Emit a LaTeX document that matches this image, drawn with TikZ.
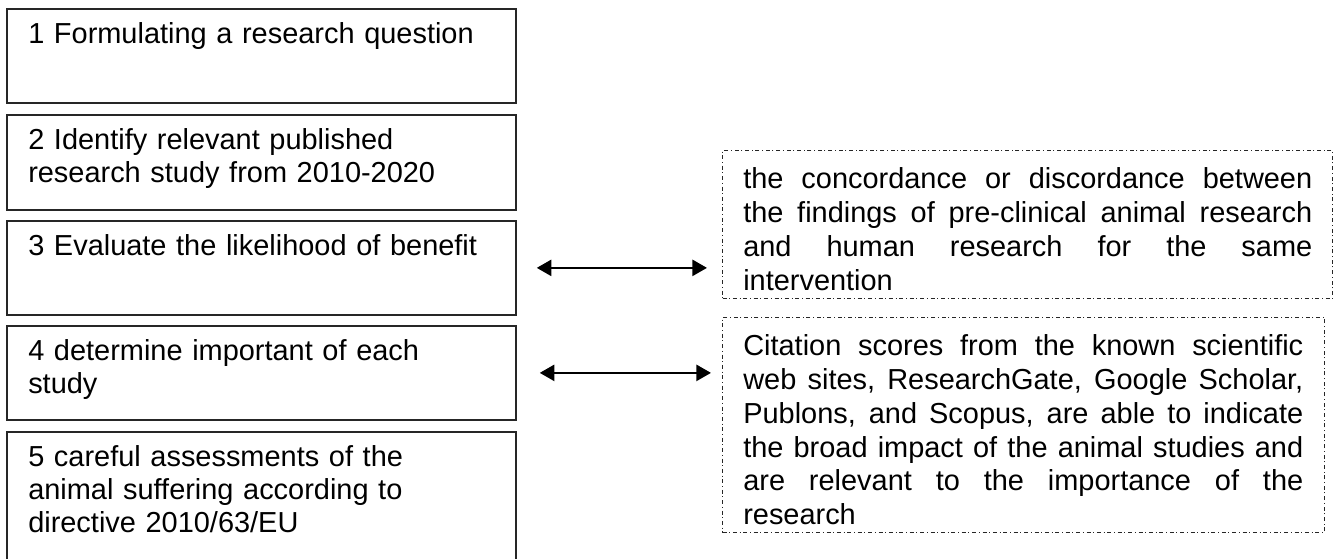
\documentclass[tikz,border=0pt]{standalone}
\usepackage{fontspec}
\setmainfont{Liberation Sans}
\usetikzlibrary{arrows.meta}
\setlength\parindent{0pt}
\tolerance=10000
\hyphenpenalty=10000
\exhyphenpenalty=10000
\newcommand\firstline{\leavevmode\vrule height 0.8em depth 0pt width 0pt\relax}
\newcommand\notepar[2]{\begin{minipage}[t]{#1}\spaceskip=0.278em plus 1em minus 0.05em\relax
  \parindent=0pt\relax\firstline #2\end{minipage}}
\begin{document}
\begin{tikzpicture}[x=0.75pt,y=-0.75pt,
  stepbox/.style={draw=black!85, line width=1.3pt, anchor=north west, inner sep=0pt, minimum width=381.75pt},
  steptext/.style={anchor=north west, inner sep=0pt, text width=360pt, align=left,
    font=\fontsize{21.7pt}{24.75pt}\selectfont},
  notebox/.style={draw=black!85, line width=0.8pt, dash pattern=on 3pt off 2pt on 0.8pt off 2pt,
    anchor=north west, inner sep=0pt},
  notetext/.style={anchor=north west, inner sep=0pt,
    font=\fontsize{21.7pt}{25.4pt}\selectfont},
  link/.style={{Triangle[length=11pt,width=12pt]}-{Triangle[length=11pt,width=12pt]}, line width=2pt}
]
\useasboundingbox (0,0) rectangle (1341,558);
\fill[white] (0,0) rectangle (1341,558);

% left column
\node[stepbox, minimum height=70.5pt] (b1) at (6,8) {};
\node[stepbox, minimum height=71.25pt] (b2) at (6,114) {};
\node[stepbox, minimum height=70.5pt] (b3) at (6,220) {};
\node[stepbox, minimum height=70.5pt] (b4) at (6,325) {};
\node[stepbox, minimum height=105pt] (b5) at (6,431) {};

\node[steptext] (t1) at ([shift={(22,12)}]b1.north west) {\firstline 1 Formulating a research question};
\node[steptext] (t2) at ([shift={(22,12)}]b2.north west) {\firstline 2 Identify relevant published\\research study from 2010-2020};
\node[steptext] (t3) at ([shift={(22,12)}]b3.north west) {\firstline 3 Evaluate the likelihood of benefit};
\node[steptext] (t4) at ([shift={(22,12)}]b4.north west) {\firstline 4 determine important of each\\study};
\node[steptext] (t5) at ([shift={(22,12)}]b5.north west) {\firstline 5 careful assessments of the\\animal suffering according to\\directive 2010/63/EU};

% right column
\node[notebox, minimum width=457.5pt, minimum height=111pt] (r1) at (722,150) {};
\node[notebox, minimum width=451.5pt, minimum height=161.25pt] (r2) at (722,317) {};

\node[notetext] (n1) at ([shift={(21,15)}]r1.north west)
  {\notepar{426.75pt}{the concordance or discordance between\linebreak the findings of pre-clinical animal research\linebreak and human research for the same\linebreak intervention}};
\node[notetext] (n2) at ([shift={(21,15)}]r2.north west)
  {\notepar{420pt}{Citation scores from the known scientific\linebreak web sites, ResearchGate, Google Scholar,\linebreak Publons, and Scopus, are able to indicate\linebreak the broad impact of the animal studies and\linebreak are relevant to the importance of the\linebreak research}};

% connectors
\draw[link, shorten <=15pt, shorten >=11.25pt] (b3.east) -- (b3.east -| r1.west);
\draw[link, shorten <=17.25pt, shorten >=8.25pt] (b4.east) -- (b4.east -| r2.west);
\end{tikzpicture}
\end{document}
